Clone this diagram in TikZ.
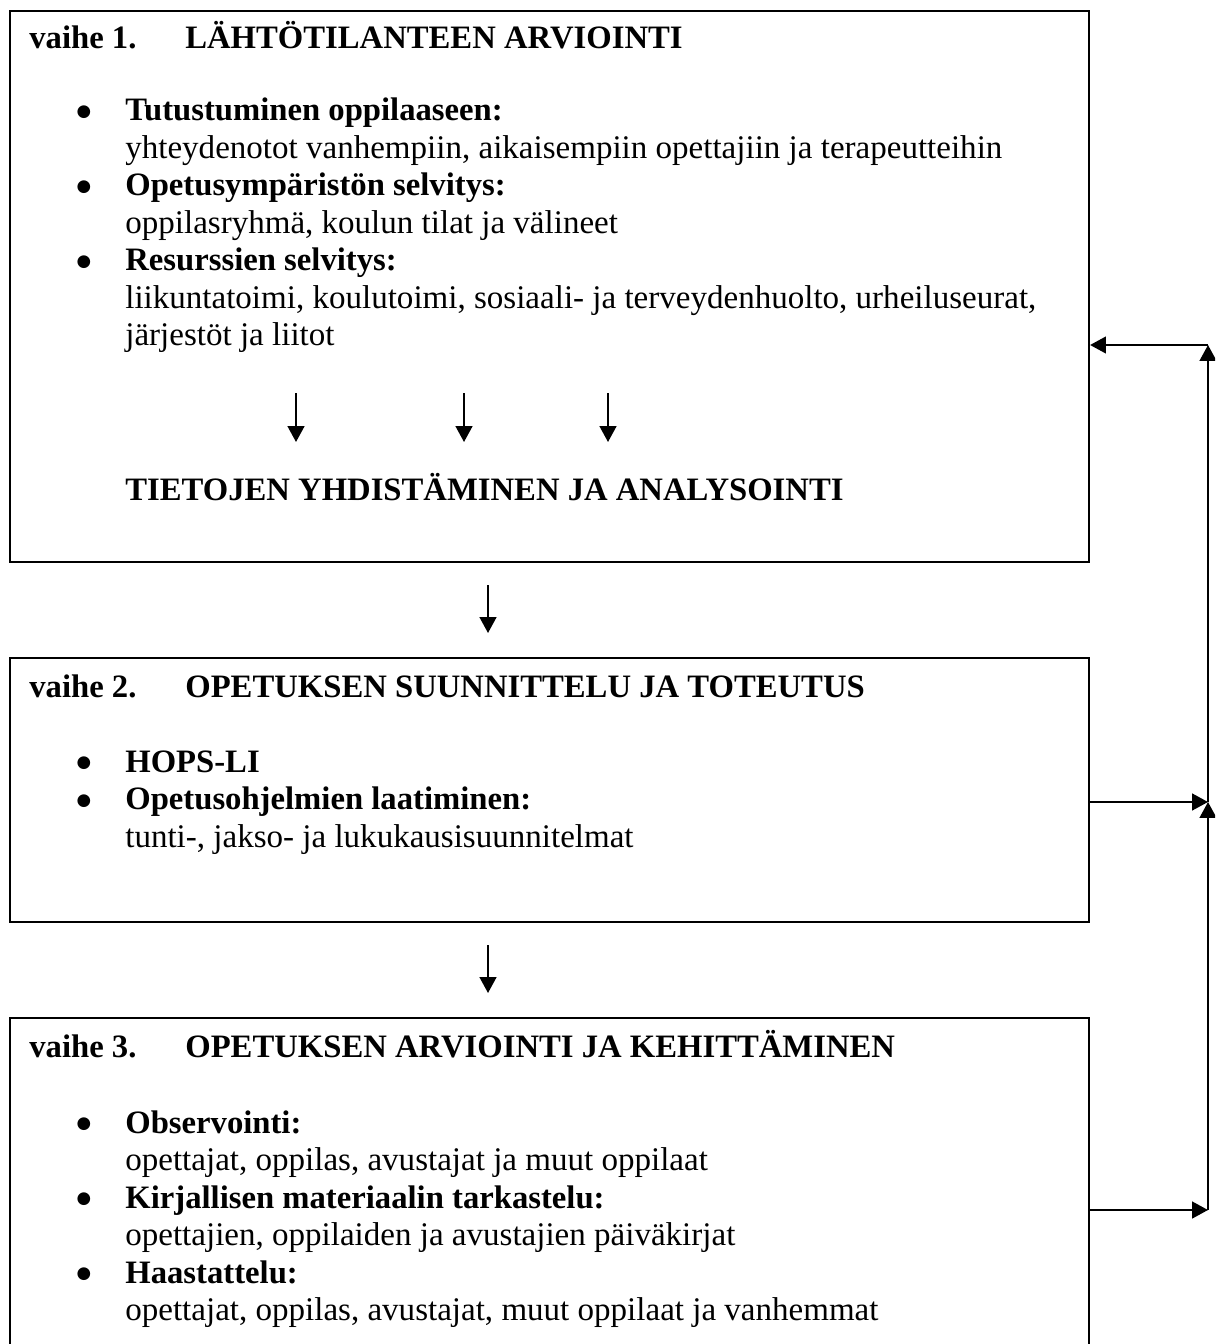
\documentclass[tikz,border=0pt]{standalone}
\usepackage{fontspec}
\setmainfont{Liberation Serif}
\newfontfamily\bulletfont{DejaVu Sans}
\usetikzlibrary{arrows.meta}
\begin{document}
\begin{tikzpicture}[x=0.02cm, y=-0.02cm,
		txt/.style={anchor=base west, inner sep=0pt, font=\fontsize{18.8}{21.3}\selectfont},
		hd/.style={txt, font=\fontsize{18.6}{21.3}\selectfont\bfseries},
		dot/.style={anchor=base, inner sep=0pt, yshift=2.5pt, font=\bulletfont\fontsize{9.5}{11}\selectfont},
		frame/.style={draw, line width=1.3pt, anchor=north west, inner sep=0pt, minimum width=21.58cm},
		arr/.style={line width=1.1pt, -{Triangle[width=9.5pt,length=9pt]}}]
		\useasboundingbox (0,0) rectangle (1215,1344);
		\clip (0,0) rectangle (1215,1344);
		
		\node [frame, minimum height=11.02cm] (box1) at (9,10) {};
		\node [frame, minimum height=5.28cm] (box2) at (9,657) {};
		\node [frame, minimum height=8cm] (box3) at (9,1017) {};
		
		\node [hd] (h1) at (29,49) {vaihe 1.};
		\node [hd] (t1) at (185,49) {LÄHTÖTILANTEEN ARVIOINTI};
		\node [dot] (d11) at (84,121) {●};
		\node [hd] (i11) at (125,121) {Tutustuminen oppilaaseen:};
		\node [txt] (s11) at (125,158.5) {yhteydenotot vanhempiin, aikaisempiin opettajiin ja terapeutteihin};
		\node [dot] (d12) at (84,196) {●};
		\node [hd] (i12) at (125,196) {Opetusympäristön selvitys:};
		\node [txt] (s12) at (125,233.5) {oppilasryhmä, koulun tilat ja välineet};
		\node [dot] (d13) at (84,271) {●};
		\node [hd] (i13) at (125,271) {Resurssien selvitys:};
		\node [txt] (s13) at (125,308.5) {liikuntatoimi, koulutoimi, sosiaali- ja terveydenhuolto, urheiluseurat,};
		\node [txt] (s14) at (125,346) {järjestöt ja liitot};
		\node [hd] (sum) at (125,500) {TIETOJEN YHDISTÄMINEN JA ANALYSOINTI};
		
		\node [hd] (h2) at (29,697) {vaihe 2.};
		\node [hd] (t2) at (185,697) {OPETUKSEN SUUNNITTELU JA TOTEUTUS};
		\node [dot] (d21) at (84,772) {●};
		\node [hd] (i21) at (125,772) {HOPS-LI};
		\node [dot] (d22) at (84,809.5) {●};
		\node [hd] (i22) at (125,809.5) {Opetusohjelmien laatiminen:};
		\node [txt] (s22) at (125,847) {tunti-, jakso- ja lukukausisuunnitelmat};
		
		\node [hd] (h3) at (29,1057) {vaihe 3.};
		\node [hd] (t3) at (185,1057) {OPETUKSEN ARVIOINTI JA KEHITTÄMINEN};
		\node [dot] (d31) at (84,1133) {●};
		\node [hd] (i31) at (125,1133) {Observointi:};
		\node [txt] (s31) at (125,1170) {opettajat, oppilas, avustajat ja muut oppilaat};
		\node [dot] (d32) at (84,1208) {●};
		\node [hd] (i32) at (125,1208) {Kirjallisen materiaalin tarkastelu:};
		\node [txt] (s32) at (125,1245) {opettajien, oppilaiden ja avustajien päiväkirjat};
		\node [dot] (d33) at (84,1283) {●};
		\node [hd] (i33) at (125,1283) {Haastattelu:};
		\node [txt] (s33) at (125,1320) {opettajat, oppilas, avustajat, muut oppilaat ja vanhemmat};
		
		\coordinate (m1) at (296,393);
		\coordinate (n1) at (296,442);
		\coordinate (m2) at (464,393);
		\coordinate (n2) at (464,442);
		\coordinate (m3) at (608,393);
		\coordinate (n3) at (608,442);
		\draw [arr] (m1) -- (n1);
		\draw [arr] (m2) -- (n2);
		\draw [arr] (m3) -- (n3);
		
		\coordinate (g1) at (488,585);
		\coordinate (g2) at (488,633);
		\draw [arr] (g1) -- (g2);
		\coordinate (g3) at (488,945);
		\coordinate (g4) at (488,993);
		\draw [arr] (g3) -- (g4);
		
		\coordinate (r1) at (1208,345);
		\coordinate (r2) at (1208,802);
		\coordinate (r3) at (1208,1210);
		\draw [arr] (box3.east |- r3) -- (r3);
		\draw [arr] (box2.east |- r2) -- (r2);
		\draw [arr] (r3) -- (r2);
		\draw [arr] (r2) -- (r1);
		\draw [arr] (r1) -- (box1.east |- r1);
		
		\end{tikzpicture}
\end{document}
